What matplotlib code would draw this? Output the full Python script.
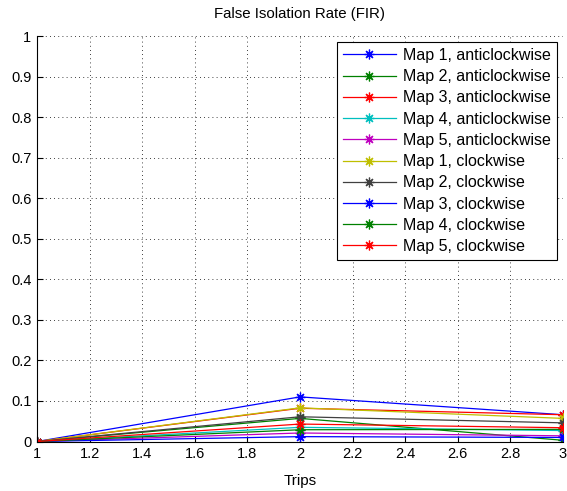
import matplotlib
matplotlib.use("Agg")
import matplotlib.pyplot as plt

plt.rcParams['font.family'] = ['Liberation Sans', 'DejaVu Sans']

trips = [1, 2, 3]
labels = [
    "Map 1, anticlockwise", "Map 2, anticlockwise", "Map 3, anticlockwise",
    "Map 4, anticlockwise", "Map 5, anticlockwise",
    "Map 1, clockwise", "Map 2, clockwise", "Map 3, clockwise",
    "Map 4, clockwise", "Map 5, clockwise",
]
map1_anti = [0.0, 0.110, 0.066]
map2_anti = [0.0, 0.057, 0.003]
map3_anti = [0.0, 0.082, 0.066]
map4_anti = [0.0, 0.035, 0.027]
map5_anti = [0.0, 0.021, 0.014]
map1_cw = [0.0, 0.083, 0.057]
map2_cw = [0.0, 0.061, 0.046]
map3_cw = [0.0, 0.012, 0.010]
map4_cw = [0.0, 0.029, 0.030]
map5_cw = [0.0, 0.043, 0.034]
series = [map1_anti, map2_anti, map3_anti, map4_anti, map5_anti,
          map1_cw, map2_cw, map3_cw, map4_cw, map5_cw]

colors = [(0, 0, 1), (0, 0.5, 0), (1, 0, 0), (0, 0.75, 0.75), (0.75, 0, 0.75),
          (0.75, 0.75, 0), (0.25, 0.25, 0.25)]

fig = plt.figure(figsize=(5.67, 4.91), dpi=100)
ax = fig.add_axes([37/567, 49.5/491, 526/567, 405.5/491])

for i, (vals, lab) in enumerate(zip(series, labels)):
    ax.plot(trips, vals, color=colors[i % len(colors)], lw=0.9, marker=(8, 2, 0),
            markersize=7, markeredgewidth=0.9, label=lab)

ax.set_xlim(1, 3)
ax.set_ylim(0, 1)
ax.set_xticks([1 + 0.2 * k for k in range(11)])
ax.set_xticklabels(["1", "1.2", "1.4", "1.6", "1.8", "2", "2.2", "2.4", "2.6", "2.8", "3"])
ax.set_yticks([0.1 * k for k in range(11)])
ax.set_yticklabels(["0", "0.1", "0.2", "0.3", "0.4", "0.5", "0.6", "0.7", "0.8", "0.9", "1"])
ax.tick_params(direction='in', length=4, width=0.8, labelsize=10.5, pad=4)
ax.grid(True, color='k', linestyle=(0, (1, 4)), linewidth=0.6)
for s in ['top', 'right']:
    ax.spines[s].set_visible(False)
for s in ['left', 'bottom']:
    ax.spines[s].set_linewidth(0.8)

ax.set_title("False Isolation Rate (FIR)", fontsize=10.8, pad=13)
ax.set_xlabel("Trips", fontsize=11, labelpad=9)

leg = ax.legend(loc='upper right', fontsize=11.5, frameon=True, fancybox=False,
                edgecolor='k', framealpha=1, handlelength=3.3, handletextpad=0.45,
                labelspacing=0.39, borderaxespad=0.35, borderpad=0.4)
leg.get_frame().set_linewidth(0.8)

fig.savefig("out.png", dpi=100)
